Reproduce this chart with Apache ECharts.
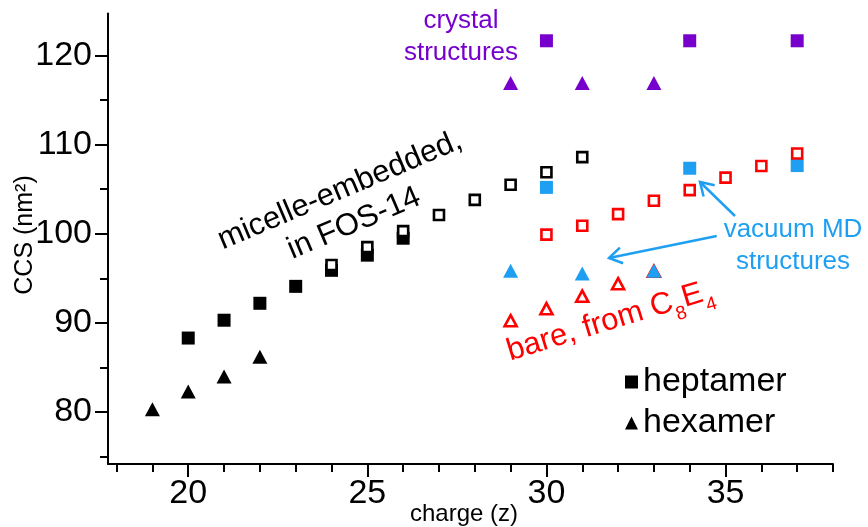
<!DOCTYPE html>
<html>
<head>
<meta charset="utf-8">
<script src="https://cdn.jsdelivr.net/npm/echarts@6/dist/echarts.min.js"></script>
<style>
  html, body { margin: 0; padding: 0; background: #fff; }
  #chart { width: 868px; height: 527px; }
</style>
</head>
<body>
<div id="chart"></div>
<script>
// ---- data (charge z, CCS nm^2) ----
const micelleHeptFilledZ = [20, 21, 22, 23, 24, 25, 26];
const micelleHeptFilledCCS = [88.3, 90.3, 92.2, 94.1, 95.9, 97.6, 99.5];
const micelleHeptHollowZ = [24, 25, 26, 27, 28, 29, 30, 31];
const micelleHeptHollowCCS = [96.5, 98.5, 100.3, 102.1, 103.8, 105.5, 106.9, 108.6];
const micelleHexZ = [19, 20, 21, 22];
const micelleHexCCS = [80.3, 82.3, 84.0, 86.2];
const bareHeptZ = [30, 31, 32, 33, 34, 35, 36, 37];
const bareHeptCCS = [99.9, 100.9, 102.2, 103.7, 104.9, 106.3, 107.6, 109.0];
const bareHexZ = [29, 30, 31, 32, 33];
const bareHexCCS = [90.25, 91.6, 93.0, 94.4, 95.8];
const vacuumHeptZ = [30, 34, 37];
const vacuumHeptCCS = [105.2, 107.35, 107.65];
const vacuumHexZ = [29, 31, 33];
const vacuumHexCCS = [95.85, 95.55, 95.85];
const crystalHeptZ = [30, 34, 37];
const crystalHeptCCS = [121.65, 121.65, 121.65];
const crystalHexZ = [29, 31, 33];
const crystalHexCCS = [116.9, 116.9, 116.9];

// ---- axis ticks ----
const xMajorTicks = [20, 25, 30, 35];
const xMinorTicks = [18, 19, 21, 22, 23, 24, 26, 27, 28, 29, 31, 32, 33, 34, 36, 37, 38];
const yMajorTicks = [80, 90, 100, 110, 120];
const yMinorTicks = [75, 85, 95, 105, 115];
const xRange = [17.76, 38];
const yRange = [74.17, 124.71];
const xTitle = 'charge (z)';
const yTitle = 'CCS (nm²)';

const FONT = 'Liberation Sans, Arial, sans-serif';
const BLACK = '#000000';
const RED = '#ff0000';
const BLUE = '#1e9ff2';
const PURPLE = '#7700cc';

function pts(z, v) { return z.map((x, i) => [x, v[i]]); }

const chart = echarts.init(document.getElementById('chart'), null, { renderer: 'canvas' });

const tickLine = { color: BLACK, width: 2 };

function arrow(x0, y0, x1, y1, len, ang) {
  const dx = x0 - x1, dy = y0 - y1;
  const d = Math.hypot(dx, dy);
  const ux = dx / d, uy = dy / d;
  const a = ang * Math.PI / 180;
  const b1 = [x1 + len * (ux * Math.cos(a) - uy * Math.sin(a)), y1 + len * (ux * Math.sin(a) + uy * Math.cos(a))];
  const b2 = [x1 + len * (ux * Math.cos(-a) - uy * Math.sin(-a)), y1 + len * (ux * Math.sin(-a) + uy * Math.cos(-a))];
  return [
    { type: 'polyline', shape: { points: [[x0, y0], [x1, y1]] }, style: { stroke: BLUE, lineWidth: 2.5, fill: null } },
    { type: 'polyline', shape: { points: [b1, [x1, y1], b2] }, style: { stroke: BLUE, lineWidth: 2.5, fill: null, lineJoin: 'miter' } }
  ];
}

function sc(name, symbol, size, style, z, v) {
  return { name: name, type: 'scatter', symbol: symbol, symbolSize: size,
           itemStyle: Object.assign({ opacity: 1 }, style), emphasis: { disabled: true },
           data: pts(z, v) };
}

const option = {
  animation: false,
  backgroundColor: '#ffffff',
  textStyle: { fontFamily: FONT },
  grid: { left: 108, right: 35, top: 13.5, bottom: 63, containLabel: false, outerBoundsMode: 'none' },
  xAxis: [
    {
      type: 'value', min: xRange[0], max: xRange[1], position: 'bottom',
      axisLine: { show: true, lineStyle: tickLine },
      axisTick: { show: true, customValues: xMajorTicks, length: 13, lineStyle: tickLine },
      axisLabel: { customValues: xMajorTicks, fontSize: 34, color: BLACK, margin: 13, fontFamily: FONT },
      splitLine: { show: false }
    },
    {
      type: 'value', min: xRange[0], max: xRange[1], position: 'bottom',
      axisLine: { show: false },
      axisTick: { show: true, customValues: xMinorTicks, length: 8, lineStyle: tickLine },
      axisLabel: { show: false },
      splitLine: { show: false }
    }
  ],
  yAxis: [
    {
      type: 'value', min: yRange[0], max: yRange[1], position: 'left',
      axisLine: { show: true, lineStyle: tickLine },
      axisTick: { show: true, customValues: yMajorTicks, length: 13, lineStyle: tickLine },
      axisLabel: { customValues: yMajorTicks, fontSize: 34, color: BLACK, margin: 16, fontFamily: FONT },
      splitLine: { show: false }
    },
    {
      type: 'value', min: yRange[0], max: yRange[1], position: 'left',
      axisLine: { show: false },
      axisTick: { show: true, customValues: yMinorTicks, length: 8, lineStyle: tickLine },
      axisLabel: { show: false },
      splitLine: { show: false }
    }
  ],
  legend: {
    data: [{ name: 'heptamer', icon: 'rect' }, { name: 'hexamer', icon: 'triangle' }],
    orient: 'vertical', left: 620, top: 360, itemWidth: 13, itemHeight: 13, itemGap: 7,
    selectedMode: false,
    textStyle: { fontSize: 34, color: BLACK, fontFamily: FONT }
  },
  series: [
    sc('heptamer', 'rect', 13, { color: BLACK }, micelleHeptFilledZ, micelleHeptFilledCCS),
    sc('hexamer', 'triangle', [15, 14], { color: BLACK }, micelleHexZ, micelleHexCCS),
    sc('vacuum MD heptamer', 'rect', 13, { color: BLUE }, vacuumHeptZ, vacuumHeptCCS),
    sc('bare heptamer', 'rect', 10, { color: '#ffffff', borderColor: RED, borderWidth: 2.6 }, bareHeptZ, bareHeptCCS),
    sc('micelle heptamer (open)', 'rect', 10, { color: '#ffffff', borderColor: BLACK, borderWidth: 2.6 }, micelleHeptHollowZ, micelleHeptHollowCCS),
    sc('bare hexamer', 'triangle', [12, 11], { color: '#ffffff', borderColor: RED, borderWidth: 2.6 }, bareHexZ, bareHexCCS),
    sc('vacuum MD hexamer', 'triangle', [15, 14], { color: BLUE }, vacuumHexZ, vacuumHexCCS),
    sc('crystal heptamer', 'rect', 13, { color: PURPLE }, crystalHeptZ, crystalHeptCCS),
    sc('crystal hexamer', 'triangle', [15, 14], { color: PURPLE }, crystalHexZ, crystalHexCCS)
  ],
  graphic: [
    { type: 'text', x: 464, y: 514, z: 10,
      style: { text: xTitle, fill: BLACK, fontSize: 24, fontFamily: FONT,
               align: 'center', verticalAlign: 'middle' } },
    { type: 'text', x: 25, y: 235, rotation: Math.PI / 2, z: 10,
      style: { text: yTitle, fill: BLACK, fontSize: 25, fontFamily: FONT,
               align: 'center', verticalAlign: 'middle' } },
    { type: 'text', x: 461, y: 37, z: 10,
      style: { text: 'crystal\nstructures', fill: PURPLE, fontSize: 26, fontFamily: FONT,
               align: 'center', verticalAlign: 'middle', lineHeight: 32 } },
    { type: 'text', x: 347, y: 207, rotation: 23 * Math.PI / 180, z: 10,
      style: { text: 'micelle-embedded,\nin FOS-14', fill: BLACK, fontSize: 31, fontFamily: FONT,
               align: 'center', verticalAlign: 'middle', lineHeight: 36 } },
    { type: 'text', x: 793, y: 246, z: 10,
      style: { text: 'vacuum MD\nstructures', fill: BLUE, fontSize: 26, fontFamily: FONT,
               align: 'center', verticalAlign: 'middle', lineHeight: 32 } },
    { type: 'text', x: 610, y: 321, rotation: 17 * Math.PI / 180, z: 10,
      style: { text: '{a|bare, from C}{b|8}{a|E}{b|4}', align: 'center', verticalAlign: 'middle',
               rich: {
                 a: { fill: RED, fontSize: 31, fontFamily: FONT, lineHeight: 31 },
                 b: { fill: RED, fontSize: 19, fontFamily: FONT, lineHeight: 47, verticalAlign: 'bottom' }
               } } }
  ].concat(arrow(735, 216, 700, 182, 15, 32)).concat(arrow(716.7, 236, 609, 258, 15, 32))
};

chart.setOption(option);
</script>
</body>
</html>
